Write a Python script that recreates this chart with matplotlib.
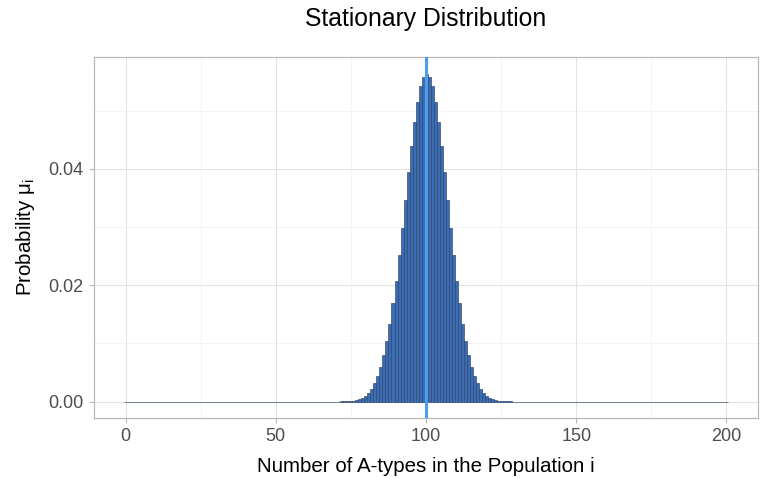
import numpy as np
import matplotlib.pyplot as plt

plt.rcParams['font.family'] = ['Liberation Sans', 'DejaVu Sans']

# population size and state index
n_pop = 200
states = np.arange(0, n_pop + 1)

# probabilities for i = 72 .. 128, everything else ~0
first_state = 72
probs_mid = [
    0.00002, 0.000036, 0.00006, 0.00010, 0.00017, 0.00028, 0.00044, 0.00068,
    0.00103, 0.00152, 0.00220, 0.00313, 0.00436, 0.00596, 0.00796, 0.01044,
    0.01340, 0.01686, 0.02080, 0.02514, 0.02979, 0.03459, 0.03937, 0.04393,
    0.04805, 0.05152, 0.05415, 0.05579, 0.05635, 0.05579, 0.05415, 0.05152,
    0.04805, 0.04393, 0.03937, 0.03459, 0.02979, 0.02514, 0.02080, 0.01686,
    0.01340, 0.01044, 0.00796, 0.00596, 0.00436, 0.00313, 0.00220, 0.00152,
    0.00103, 0.00068, 0.00044, 0.00028, 0.00017, 0.00010, 0.00006, 0.000036,
    0.00002,
]
mean_state = 100

probs = np.zeros(len(states))
probs[first_state:first_state + len(probs_mid)] = probs_mid

fig = plt.figure(figsize=(7.62, 4.78), dpi=100)
ax = fig.add_axes([0.1234, 0.1255, 0.8714, 0.7553])

ax.bar(states, probs, width=1.0, color='#3b6db7', edgecolor='#2d4166',
       linewidth=0.45, zorder=3)
ax.axvline(mean_state, color='#4aa0ea', linewidth=2.2, zorder=4)

ax.set_xlim(-10.55, 210.55)
ax.set_ylim(-0.00282, 0.0592)
ax.set_xticks([0, 50, 100, 150, 200])
ax.set_xticks([25, 75, 125, 175], minor=True)
ax.set_yticks([0.0, 0.02, 0.04])
ax.set_yticklabels(['0.00', '0.02', '0.04'])
ax.set_yticks([0.01, 0.03, 0.05], minor=True)

ax.grid(which='major', color='#e3e3e3', linewidth=0.8, zorder=0)
ax.grid(which='minor', color='#f0f0f0', linewidth=0.5, zorder=0)
for s in ax.spines.values():
    s.set_color('#b8b8b8')
    s.set_linewidth(0.9)
ax.tick_params(which='major', length=3.5, width=0.8, color='#b8b8b8',
               labelcolor='#4d4d4d', labelsize=13, pad=4)
ax.tick_params(which='minor', length=0)

ax.set_xlabel('Number of A-types in the Population i', fontsize=14.8,
              color='black', labelpad=8)
ax.set_ylabel('Probability μ$_\\mathregular{i}$', fontsize=14.8,
              color='black', labelpad=8)
ax.set_title('Stationary Distribution', fontsize=17.8, pad=22)

fig.savefig('out.png', dpi=100)
